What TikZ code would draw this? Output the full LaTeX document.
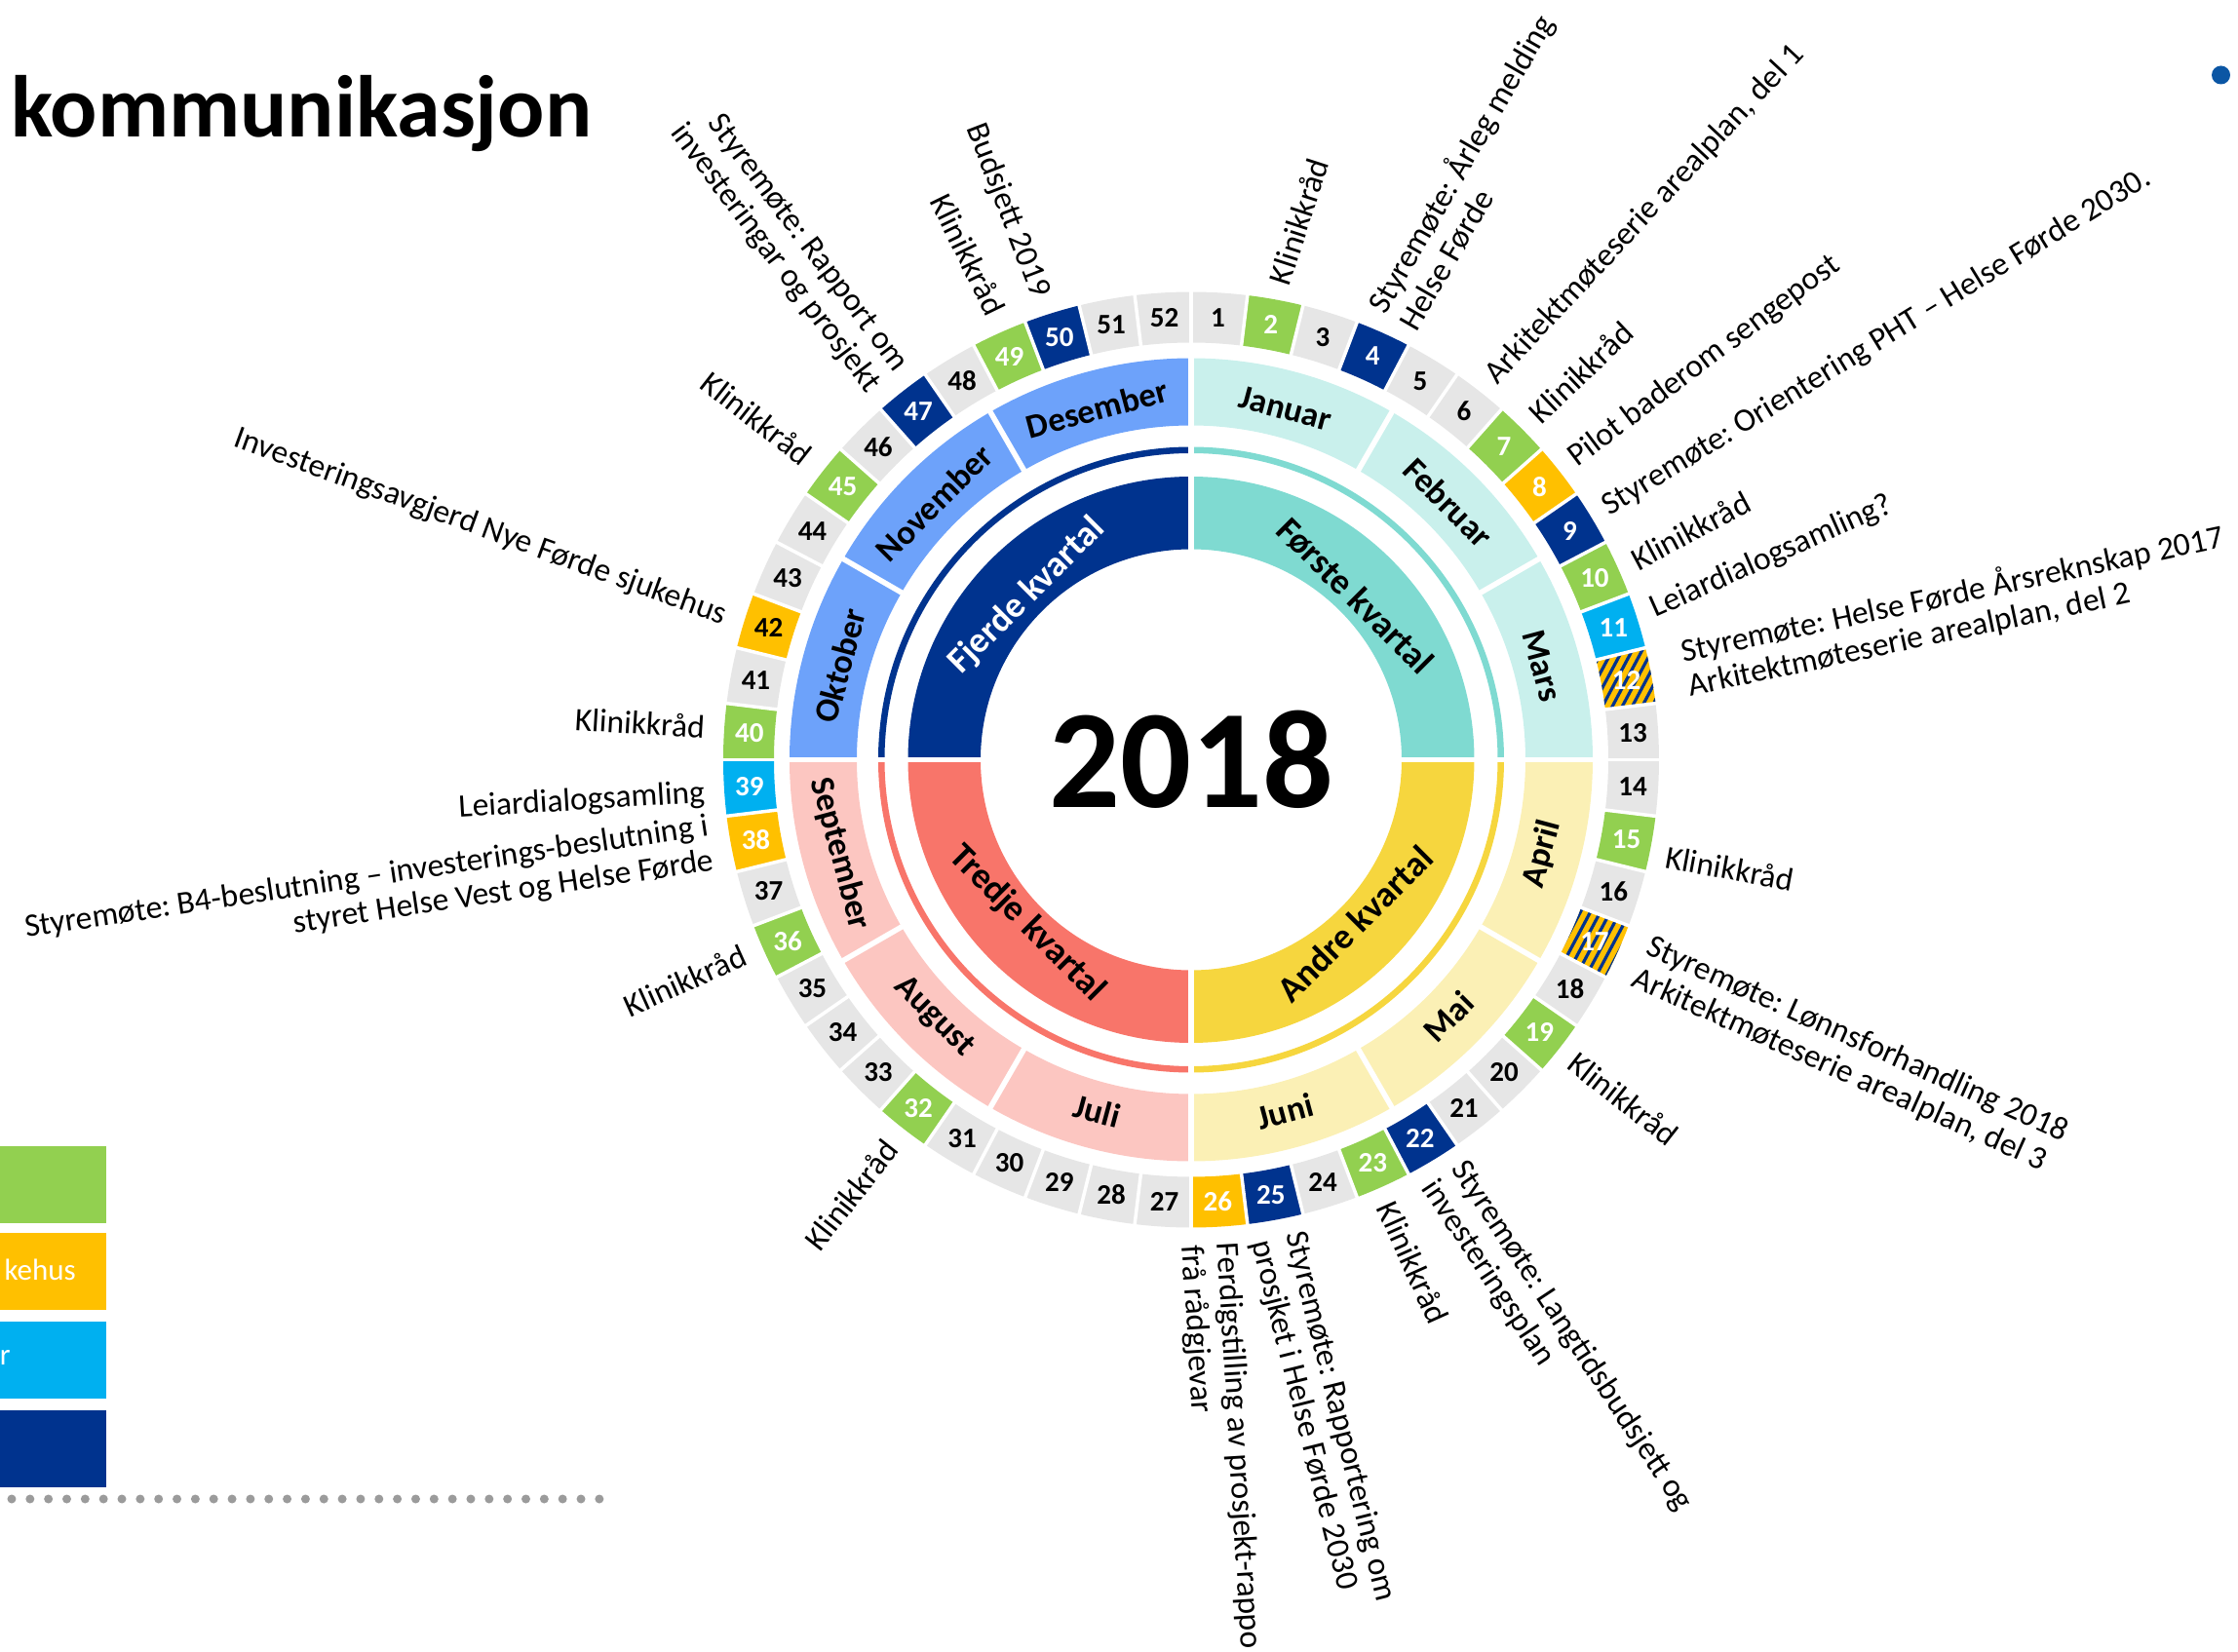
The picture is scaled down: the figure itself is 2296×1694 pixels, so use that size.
\documentclass[tikz,border=0pt]{standalone}
\usepackage{fontspec}
\setmainfont{Carlito}
\frenchspacing
\definecolor{wgray}{HTML}{E6E6E6}
\definecolor{wgreen}{HTML}{92D050}
\definecolor{worange}{HTML}{FFC000}
\definecolor{wblue}{HTML}{00338E}
\definecolor{wcyan}{HTML}{00B0F0}
\definecolor{qa}{HTML}{7FDAD1}
\definecolor{ma}{HTML}{C9F0EC}
\definecolor{qb}{HTML}{F6D63E}
\definecolor{mb}{HTML}{FBF0B5}
\definecolor{qc}{HTML}{F8756A}
\definecolor{mc}{HTML}{FCC6C1}
\definecolor{qd}{HTML}{00338E}
\definecolor{md}{HTML}{6DA2FA}
\definecolor{dotgray}{HTML}{9B9B9B}
\definecolor{dotblue}{HTML}{0B56A4}
\begin{document}
\begin{tikzpicture}[x=1pt,y=1pt,
  wk/.style={font=\bfseries\fontsize{29}{29}\selectfont, inner sep=0pt},
  mon/.style={font=\bfseries\fontsize{35}{35}\selectfont, inner sep=0pt, text=black},
  qtr/.style={font=\bfseries\fontsize{37}{37}\selectfont, inner sep=0pt},
  evt/.style={font=\fontsize{33.5}{36}\selectfont, inner sep=0pt, text=black},
  legbox/.style={minimum width=109pt, minimum height=79pt, inner sep=0pt, anchor=north west},
  legtxt/.style={font=\fontsize{31}{31}\selectfont, text=white, inner sep=0pt, anchor=east}]
\useasboundingbox (-1222,-914.5) rectangle (1074,779.5);

% ---------- quarters and thin ring ----------
\foreach \i/\fc/\m in {1/qa/45, 2/qb/-45, 3/qc/-135, 4/qd/135}{
  \pgfmathsetmacro\a{\m+45}
  \pgfmathsetmacro\b{\m-45}
  \fill[\fc] (\a:216pt) arc[start angle=\a,end angle=\b,radius=216pt] -- (\b:290.5pt) arc[start angle=\b,end angle=\a,radius=290.5pt] -- cycle;
  \fill[\fc] (\a:314.5pt) arc[start angle=\a,end angle=\b,radius=314.5pt] -- (\b:321pt) arc[start angle=\b,end angle=\a,radius=321pt] -- cycle;
}
\foreach \a in {0,90,180,270}{
  \draw[white, line width=5.5pt] (\a:210pt) -- (\a:326pt);
}

% ---------- months ----------
\foreach \j/\fc/\m in {1/ma/75, 2/ma/45, 3/ma/15, 4/mb/-15, 5/mb/-45, 6/mb/-75, 7/mc/-105, 8/mc/-135, 9/mc/-165, 10/md/165, 11/md/135, 12/md/105}{
  \pgfmathsetmacro\a{\m+15}
  \pgfmathsetmacro\b{\m-15}
  \fill[\fc] (\a:343pt) arc[start angle=\a,end angle=\b,radius=343pt] -- (\b:412pt) arc[start angle=\b,end angle=\a,radius=412pt] -- cycle;
}
\foreach \j in {0,...,11}{
  \pgfmathsetmacro\a{90-\j*30}
  \draw[white, line width=5.5pt] (\a:338pt) -- (\a:417pt);
}

% ---------- weeks ----------
\foreach \k/\fc in {1/wgray,2/wgreen,3/wgray,4/wblue,5/wgray,6/wgray,7/wgreen,8/worange,9/wblue,10/wgreen,11/wcyan,12/worange,13/wgray,14/wgray,15/wgreen,16/wgray,17/worange,18/wgray,19/wgreen,20/wgray,21/wgray,22/wblue,23/wgreen,24/wgray,25/wblue,26/worange,27/wgray,28/wgray,29/wgray,30/wgray,31/wgray,32/wgreen,33/wgray,34/wgray,35/wgray,36/wgreen,37/wgray,38/worange,39/wcyan,40/wgreen,41/wgray,42/worange,43/wgray,44/wgray,45/wgreen,46/wgray,47/wblue,48/wgray,49/wgreen,50/wblue,51/wgray,52/wgray}{
  \pgfmathsetmacro\a{90-(\k-1)*6.9230769}
  \pgfmathsetmacro\b{90-\k*6.9230769}
  \fill[\fc] (\a:428pt) arc[start angle=\a,end angle=\b,radius=428pt] -- (\b:480pt) arc[start angle=\b,end angle=\a,radius=480pt] -- cycle;
}
% hatched weeks 12 and 17
\foreach \k in {12,17}{
  \pgfmathsetmacro\a{90-(\k-1)*6.9230769}
  \pgfmathsetmacro\b{90-\k*6.9230769}
  \pgfmathsetmacro\m{90-(\k-0.5)*6.9230769}
  \begin{scope}
    \clip (\a:428pt) arc[start angle=\a,end angle=\b,radius=428pt] -- (\b:480pt) arc[start angle=\b,end angle=\a,radius=480pt] -- cycle;
    \foreach \s in {-8,...,8}{
      \draw[wblue, line width=3.2pt, shift={(\m:454pt)}, rotate=62] (-60,\s*9) -- (60,\s*9);
    }
  \end{scope}
}
\foreach \k in {0,...,51}{
  \pgfmathsetmacro\a{90-\k*6.9230769}
  \draw[white, line width=3.5pt] (\a:424pt) -- (\a:484pt);
}
\foreach \k/\tc in {1/black,2/white,3/black,4/white,5/black,6/black,7/white,8/white,9/white,10/white,11/white,12/white,13/black,14/black,15/white,16/black,17/white,18/black,19/white,20/black,21/black,22/white,23/white,24/black,25/white,26/white,27/black,28/black,29/black,30/black,31/black,32/white,33/black,34/black,35/black,36/white,37/black,38/white,39/white,40/white,41/black,42/black,43/black,44/black,45/white,46/black,47/white,48/black,49/white,50/white,51/black,52/black}{
  \pgfmathsetmacro\m{90-(\k-0.5)*6.9230769}
  \node[wk, text=\tc] (w\k) at (\m:454pt) {\k};
}

% ---------- month labels ----------
\foreach \j/\nm/\m/\r in {1/Januar/75/-15, 2/Februar/45/-45, 3/Mars/15/-75, 4/April/-15/75, 5/Mai/-45/45, 6/Juni/-75/15, 7/Juli/-105/-15, 8/August/-135/-45, 9/September/-165/-75, 10/Oktober/165/75, 11/November/135/45, 12/Desember/105/15}{
  \node[mon, rotate=\r] (m\j) at (\m:373pt) {\nm};
}

% ---------- quarter labels ----------
\foreach \i/\m/\r/\lab/\tc in {1/45/-45/{Første kvartal}/black, 2/-45/45/{Andre kvartal}/black, 3/-135/-45/{Tredje kvartal}/black, 4/135/45/{Fjerde kvartal}/white}{
  \node[qtr, rotate=\r, text=\tc] (q\i) at (\m:238pt) {\lab};
}

\node[font=\bfseries\fontsize{144}{144}\selectfont, inner sep=0pt] (year) at (0,0) {2018};

% ---------- event labels, right side ----------
\foreach \id/\pa/\rr/\ro/\txt in {
  e2/79.6/497/72/{Klinikkråd},
  e4/65.8/497/60/{Styremøte: Årleg melding\\Helse Førde},
  e6/51.7/497/47/{Arkitektmøteserie arealplan, del 1},
  e7/45/497/43.5/{Klinikkråd},
  e8/38.1/497/37/{Pilot baderom sengepost},
  e9/31.2/497/31.5/{Styremøte: Orientering PHT – Helse Førde 2030.},
  e10/24.2/497/28/{Klinikkråd},
  e11/18/497/24/{Leiardialogsamling?},
  e12/10.5/515/12/{Styremøte: Helse Førde Årsreknskap 2017\\Arkitektmøteserie arealplan, del 2},
  e15/-11.5/497/-10.4/{Klinikkråd},
  e17/-24.2/506/-24.2/{Styremøte: Lønnsforhandling 2018\\Arkitektmøteserie arealplan, del 3},
  e19/-38.1/497/-38.1/{Klinikkråd},
  e22/-58.7/497/-56.5/{Styremøte: Langtidsbudsjett og\\investeringsplan},
  e23/-66.2/497/-65.8/{Klinikkråd},
  e25/-79.8/497/-76/{Styremøte: Rapportering om\\prosjket i Helse Førde 2030},
  e26/-88/497/-86.5/{Ferdigstilling av prosjekt-rappo\\frå rådgjevar}}{
  \node[evt, anchor=west, align=left, rotate=\ro] (\id) at (\pa:\rr pt) {\txt};
}

% ---------- event labels, left side ----------
\foreach \id/\pa/\ro/\txt in {
  e32/-128/51.9/{Klinikkråd},
  e36/-156.5/24.2/{Klinikkråd},
  e38/-170/8.5/{Styremøte: B4-beslutning – investerings-beslutning i\\styret Helse Vest og Helse Førde},
  e39/-176/3.5/{Leiardialogsamling},
  e40/176.1/-3.5/{Klinikkråd},
  e42/162.9/-20/{Investeringsavgjerd Nye Førde sjukehus},
  e45/141.8/-38.1/{Klinikkråd},
  e47/128.6/-53/{Styremøte: Rapport om\\investeringar og prosjekt},
  e49/113.5/-64/{Klinikkråd},
  e50/108/-69/{Budsjett 2019}}{
  \node[evt, anchor=east, align=right, rotate=\ro] (\id) at (\pa:500pt) {\txt};
}

% ---------- title, legend, decorations ----------
\node[font=\bfseries\fontsize{90}{90}\selectfont, anchor=base west, inner sep=0pt] (title) at (-1211,638.9) {kommunikasjon};

\node[legbox, fill=wgreen] (lg1) at (-1222,-396.5) {};
\node[legbox, fill=worange] (lg2) at (-1222,-485.5) {};
\node[legbox, fill=wcyan] (lg3) at (-1222,-576.5) {};
\node[legbox, fill=wblue] (lg4) at (-1222,-667.5) {};
\node[legtxt] (lt2) at (-1144,-523) {kehus};
\node[legtxt] (lt3) at (-1211,-613.5) {r};

\foreach \i in {0,...,32}{
  \fill[dotgray] (-1210+\i*18.84,-758.5) circle (4.5pt);
}
\fill[dotblue] (1056.5,702.5) circle (9.5pt);
\end{tikzpicture}
\end{document}
